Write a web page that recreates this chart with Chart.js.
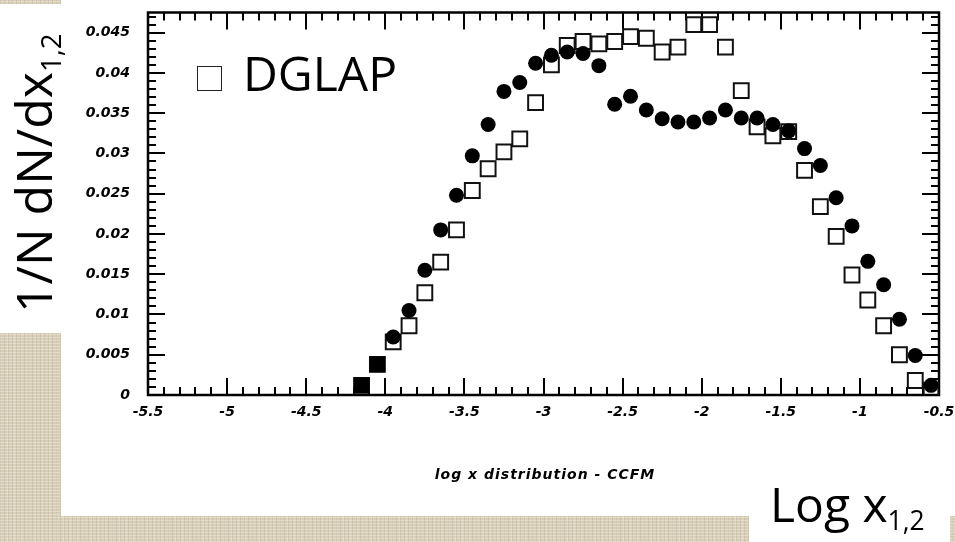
<!DOCTYPE html>
<html>
<head>
<meta charset="utf-8">
<script src="https://cdn.jsdelivr.net/npm/chart.js@4/dist/chart.umd.min.js"></script>
<style>
html,body{margin:0;padding:0;}
body{width:955px;height:542px;position:relative;overflow:hidden;
  background-color:#d8ceb7;
  background-image:
    repeating-linear-gradient(0deg, rgba(255,255,255,0.28) 0 1px, transparent 1px 3px),
    repeating-linear-gradient(90deg, rgba(110,90,60,0.13) 0 1px, transparent 1px 4px),
    repeating-linear-gradient(90deg, rgba(255,255,255,0.18) 0 1px, transparent 1px 7px);
}
.panel{position:absolute;background:#fff;}
#main{left:61px;top:0;width:894px;height:516px;}
#ybox{left:0;top:4px;width:61px;height:329px;}
#xbox{left:749px;top:500px;width:201px;height:42px;}
canvas{position:absolute;left:0;top:0;}
.big{position:absolute;font-family:"Open Sans",sans-serif;color:#000;white-space:nowrap;line-height:1;}
.sub{font-size:0.55em;position:relative;top:0.32em;}
#ylab{left:0;top:0;font-size:50px;transform-origin:0 0;transform:translate(8px,313px) rotate(-90deg);}
#xlab{left:770px;top:480px;font-size:48px;}
#leg{left:243px;top:49px;font-size:48px;}
#legbox{position:absolute;left:197px;top:66px;width:23px;height:23px;border:1.5px solid #222;background:#fff;}
#xtitle{position:absolute;left:345px;width:400px;top:466px;text-align:center;font:italic bold 14px "DejaVu Sans",sans-serif;letter-spacing:1px;color:#000;}
</style>
</head>
<body>
<div class="panel" id="main"></div>
<div class="panel" id="ybox"></div>
<div class="panel" id="xbox"></div>
<canvas id="c" width="955" height="542"></canvas>
<div class="big" id="ylab">1/N dN/dx<span class="sub">1,2</span></div>
<div class="big" id="xlab">Log x<span class="sub">1,2</span></div>
<div id="legbox"></div>
<div class="big" id="leg">DGLAP</div>
<div id="xtitle">log x distribution - CCFM</div>
<script>
// ---- data ----
const xBins = [-4.15,-4.05,-3.95,-3.85,-3.75,-3.65,-3.55,-3.45,-3.35,-3.25,-3.15,-3.05,-2.95,-2.85,-2.75,-2.65,-2.55,-2.45,-2.35,-2.25,-2.15,-2.05,-1.95,-1.85,-1.75,-1.65,-1.55,-1.45,-1.35,-1.25,-1.15,-1.05,-0.95,-0.85,-0.75,-0.65,-0.55];
const ccfm = [0.0012,0.0038,0.0072,0.0105,0.0155,0.0205,0.0248,0.0297,0.0336,0.0377,0.0388,0.0412,0.0422,0.0426,0.0424,0.0409,0.0361,0.0371,0.0354,0.0343,0.0339,0.0339,0.0344,0.0354,0.0344,0.0344,0.0336,0.0328,0.0306,0.0285,0.0245,0.0210,0.0166,0.0137,0.0094,0.0049,0.0012];
const dglap = [0.0012,0.0038,0.0066,0.0086,0.0127,0.0165,0.0205,0.0254,0.0281,0.0302,0.0318,0.0363,0.0410,0.0434,0.0439,0.0436,0.0439,0.0445,0.0443,0.0426,0.0432,0.0460,0.0460,0.0432,0.0378,0.0333,0.0322,0.0327,0.0279,0.0234,0.0197,0.0149,0.0118,0.0086,0.0050,0.0018,0.0006];
const xTicks = [-5.5,-5,-4.5,-4,-3.5,-3,-2.5,-2,-1.5,-1,-0.5];
const yTicks = [0,0.005,0.01,0.015,0.02,0.025,0.03,0.035,0.04,0.045];
const xRange = [-5.5,-0.5];
const yRange = [0,0.0475];
const xMinorStep = 0.1;
const yMinorStep = 0.001;

const tickFont = {family:"DejaVu Sans", size:14, style:"italic", weight:"bold"};

const frameTicks = {
  id:'frameTicks',
  beforeDatasetsDraw(chart){
    const {ctx, chartArea:a, scales:{x,y}} = chart;
    ctx.save();
    ctx.strokeStyle = '#000';
    ctx.lineWidth = 2;
    ctx.beginPath();
    const nx = Math.round((xRange[1]-xRange[0])/xMinorStep);
    for(let i=0;i<=nx;i++){
      const v = xRange[0]+i*xMinorStep;
      const major = xTicks.some(t=>Math.abs(t-v)<1e-6);
      const len = major?17:8;
      const px = Math.round(x.getPixelForValue(v));
      ctx.moveTo(px, a.bottom); ctx.lineTo(px, a.bottom-len);
      ctx.moveTo(px, a.top); ctx.lineTo(px, a.top+len);
    }
    const ny = Math.floor((yRange[1]-yRange[0])/yMinorStep+1e-6);
    for(let i=0;i<=ny;i++){
      const v = yRange[0]+i*yMinorStep;
      const major = yTicks.some(t=>Math.abs(t-v)<1e-7);
      const len = major?17:8;
      const py = Math.round(y.getPixelForValue(v));
      ctx.moveTo(a.left, py); ctx.lineTo(a.left+len, py);
      ctx.moveTo(a.right, py); ctx.lineTo(a.right-len, py);
    }
    ctx.stroke();
    ctx.lineWidth = 2.5;
    ctx.strokeRect(a.left, a.top, a.right-a.left, a.bottom-a.top);
    ctx.restore();
  }
};

new Chart(document.getElementById('c'), {
  type:'scatter',
  data:{
    datasets:[
      {
        label:'CCFM',
        data:xBins.map((v,i)=>({x:v,y:ccfm[i]})),
        backgroundColor:'#000',
        borderColor:'#000',
        borderWidth:0,
        pointStyle:ctx=>ctx.dataIndex<2?'rect':'circle',
        pointRadius:ctx=>ctx.dataIndex<2?11:7.5
      },
      {
        label:'DGLAP',
        data:xBins.map((v,i)=>({x:v,y:dglap[i]})),
        backgroundColor:'rgba(255,255,255,0)',
        borderColor:'#111',
        borderWidth:2,
        pointStyle:'rect',
        pointRadius:10.5
      }
    ]
  },
  options:{
    responsive:false,
    animation:false,
    devicePixelRatio:1,
    layout:{padding:{left:60,top:9,right:16,bottom:0}},
    plugins:{legend:{display:false},tooltip:{enabled:false}},
    scales:{
      x:{
        type:'linear', min:xRange[0], max:xRange[1],
        afterBuildTicks:s=>{s.ticks = xTicks.map(v=>({value:v}));},
        afterFit:s=>{s.height = 147; s.paddingLeft = 0; s.paddingRight = 0;},
        grid:{display:false, drawTicks:false},
        border:{display:false},
        ticks:{font:tickFont, color:'#000', padding:9, maxRotation:0, autoSkip:false,
               callback:v=>String(v)}
      },
      y:{
        type:'linear', min:yRange[0], max:yRange[1],
        afterBuildTicks:s=>{s.ticks = yTicks.map(v=>({value:v}));},
        afterFit:s=>{s.width = 88; s.paddingTop = 0; s.paddingBottom = 0;},
        grid:{display:false, drawTicks:false},
        border:{display:false},
        ticks:{font:tickFont, color:'#000', padding:18, autoSkip:false,
               callback:v=>String(+Number(v).toFixed(3))}
      }
    }
  },
  plugins:[frameTicks]
});
</script>
</body>
</html>
